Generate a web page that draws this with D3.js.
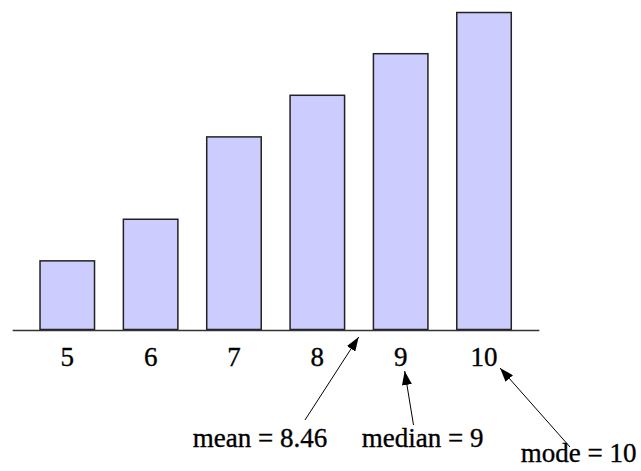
<!DOCTYPE html>
<html>
<head>
<meta charset="utf-8">
<script src="https://cdn.jsdelivr.net/npm/d3@7/dist/d3.min.js"></script>
<style>
  html, body { margin: 0; padding: 0; background: #fff; }
  svg { display: block; }
</style>
</head>
<body>
<script>
// ---- data ----
const categories = ["5", "6", "7", "8", "9", "10"];
const frequencies = [1.65, 2.65, 4.63, 5.63, 6.63, 7.62];
const statLabels = ["mean = 8.46", "median = 9", "mode = 10"];
const statValues = [8.46, 9, 10];

// ---- layout ----
const W = 641, H = 471;
const baseY = 330.5;
const FONT = '"Liberation Serif", Tinos, "Times New Roman", serif';
const svg = d3.select("body").append("svg").attr("width", W).attr("height", H);

const x = d3.scaleBand().domain(categories).range([25.6, 525.7])
  .paddingInner(0.346).paddingOuter(0.173);
const y = d3.scaleLinear().domain([0, 8]).range([baseY - 1, baseY - 1 - 8 * 41.6]);
// numeric position along the category axis (centre of bands)
const xc = d3.scaleLinear()
  .domain([+categories[0], +categories[categories.length - 1]])
  .range([x(categories[0]) + x.bandwidth() / 2, x(categories[categories.length - 1]) + x.bandwidth() / 2]);

// bars
svg.append("g").selectAll("rect").data(frequencies).join("rect")
  .attr("x", (d, i) => x(categories[i]))
  .attr("y", d => y(d))
  .attr("width", x.bandwidth())
  .attr("height", d => y(0) - y(d))
  .attr("fill", "#ccccff")
  .attr("stroke", "#222")
  .attr("stroke-width", 1.5);

// axis (baseline + labels, no ticks)
const axis = d3.axisBottom(x).tickSize(0).tickPadding(16);
const gAxis = svg.append("g").attr("transform", `translate(0,${baseY})`).call(axis)
  .attr("font-family", FONT).attr("font-size", 27);
gAxis.select(".domain").remove();
gAxis.selectAll("text")
  .attr("font-family", FONT)
  .attr("font-size", 27)
  .attr("fill", "#000")
  .attr("stroke", "#000").attr("stroke-width", 0.35)
  .attr("dy", "0.71em")
  .attr("y", 16);
svg.append("line")
  .attr("x1", 12.7).attr("x2", 539.3)
  .attr("y1", baseY).attr("y2", baseY)
  .attr("stroke", "#333").attr("stroke-width", 1.4);

// arrowhead marker
svg.append("defs").append("marker")
  .attr("id", "ah").attr("viewBox", "0 0 14 10")
  .attr("refX", 14).attr("refY", 5)
  .attr("markerWidth", 14).attr("markerHeight", 10)
  .attr("markerUnits", "userSpaceOnUse")
  .attr("orient", "auto")
  .append("path").attr("d", "M0,0 L14,5 L0,10 Z").attr("fill", "#000");

// annotation geometry (layout only)
const tipOff = [[3, 337], [4, 371], [16, 368]];
const tails = [[305, 420], [413.5, 425], [570, 447]];
const textPos = [[192.7, 446.7], [361.7, 446.7], [520.7, 462]];

const ann = svg.append("g");
statValues.forEach((v, i) => {
  ann.append("line")
    .attr("x1", tails[i][0]).attr("y1", tails[i][1])
    .attr("x2", xc(v) + tipOff[i][0]).attr("y2", tipOff[i][1])
    .attr("stroke", "#000").attr("stroke-width", 1)
    .attr("marker-end", "url(#ah)");
  ann.append("text")
    .attr("x", textPos[i][0]).attr("y", textPos[i][1])
    .attr("font-size", 27)
    .attr("font-family", FONT)
    .attr("fill", "#000")
    .attr("stroke", "#000").attr("stroke-width", 0.35)
    .text(statLabels[i]);
});
</script>
</body>
</html>
